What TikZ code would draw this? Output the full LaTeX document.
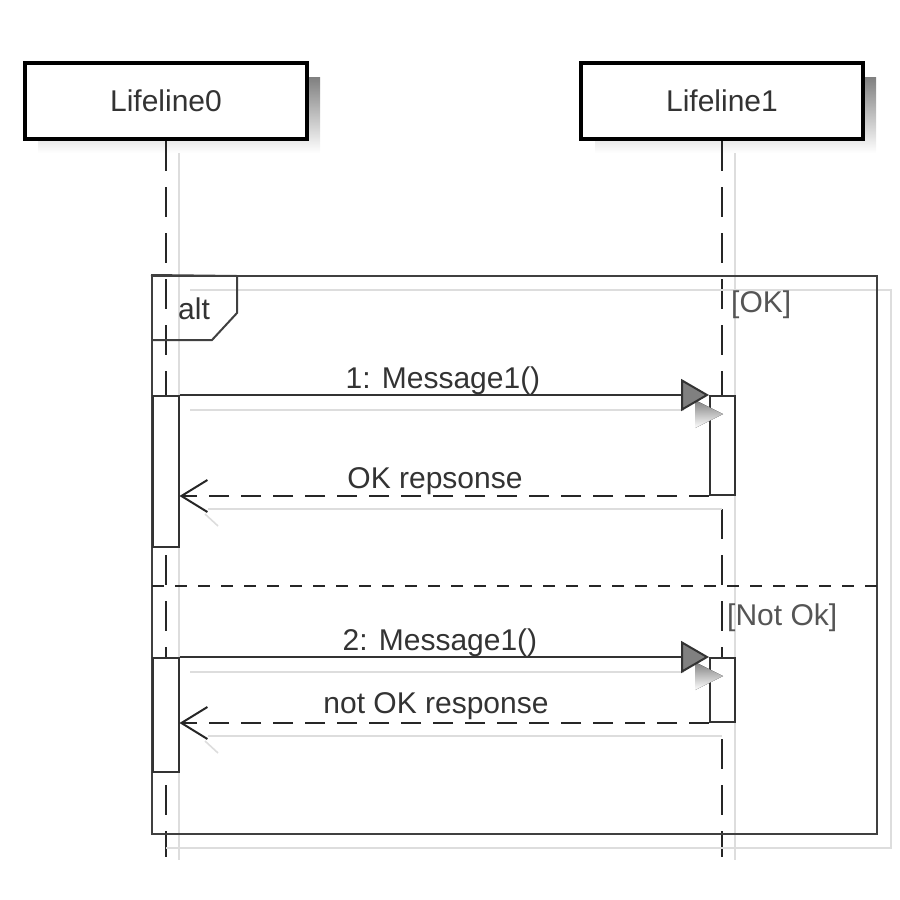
\documentclass[tikz,border=0pt]{standalone}
\usepackage{fontspec}
\setmainfont{Liberation Sans}
\usetikzlibrary{arrows.meta}
\definecolor{ink}{HTML}{333333}
\definecolor{shade}{HTML}{DDDDDD}
\definecolor{lbl}{HTML}{555555}
\tikzset{
  lifebox/.style={draw=black, line width=4pt, fill=white, minimum width=282pt, minimum height=76pt, inner sep=0pt, font=\fontsize{30}{32}\selectfont, text=ink},
  lifeshadow/.style={fill=shade, draw=none},
  lifeline/.style={draw=black!85, line width=2pt, dash pattern=on 30pt off 16pt},
  actbox/.style={draw=black!80, line width=2pt, fill=white, inner sep=0pt, minimum width=26pt},
  frame/.style={draw=black!75, line width=2pt},
  shadowline/.style={draw=shade, line width=1.6pt},
  sep/.style={draw=black!85, line width=2pt, dash pattern=on 12pt off 11pt},
  callmsg/.style={draw=black!80, line width=2pt, -{Triangle[length=28pt,width=32pt,fill=gray]}},
  retmsg/.style={draw=black!85, line width=2pt, dash pattern=on 20pt off 12pt, -{Straight Barb[length=26pt,width=32pt]}},
  msglbl/.style={anchor=base, font=\fontsize{30}{32}\selectfont, text=ink, inner sep=0pt},
  guard/.style={anchor=base west, font=\fontsize{30}{32}\selectfont, text=lbl, inner sep=0pt},
}
\begin{document}
\begin{tikzpicture}[x=1pt,y=-1pt]
\useasboundingbox (0,0) rectangle (900,900);
% lifeline box shadows
\fill[shade] (38,77) rectangle (320,153);
\fill[shade] (595,77) rectangle (876,153);
% lifeline shadows
\draw[shadowline] (179,153) -- (179,860);
\draw[shadowline] (735,153) -- (735,860);
% lifeline heads
\node[lifebox] (L0) at (166,101) {Lifeline0};
\node[lifebox] (L1) at (722,101) {Lifeline1};
\coordinate (E0) at (166,857);
\coordinate (E1) at (722,857);
\draw[lifeline] (L0.south) -- (E0);
\draw[lifeline] (L1.south) -- (E1);
% frame shadow
\draw[shadowline] (190,290) -- (891,290) -- (891,848) -- (166,848);
% alt frame
\node[frame, minimum width=725pt, minimum height=558pt, inner sep=0pt] (alt) at (514.5,555) {};
\draw[frame] (alt.north west) -- (237,276) -- (237,313) -- (212,340) -- (alt.west |- 0,340);
\node[anchor=base west, font=\fontsize{30}{32}\selectfont, text=ink, inner sep=0pt] (altlbl) at (178,319) {alt};
\coordinate (sepL) at (152,586);
\coordinate (sepR) at (877,586);
\draw[sep] (sepL) -- (sepR);
\node[guard] (g1) at (731,312) {[OK]};
\node[guard] (g2) at (727,625) {[Not Ok]};
% activation boxes
\node[actbox, minimum height=151pt] (a0) at (165.5,471.5) {};
\node[actbox, minimum height=114pt] (b0) at (165.5,715) {};
\node[actbox, minimum width=25pt, minimum height=99pt] (a1) at (722.5,445.5) {};
\node[actbox, minimum width=25pt, minimum height=64pt] (b1) at (722.5,690) {};
% message shadows
\draw[shadowline] (190,410) -- (684,410);
\fill[shade] (695,400) -- (723,414) -- (695,428) -- cycle;
\draw[shadowline] (208,509) -- (722,509);
\draw[shadowline] (205,514) -- (218,526);
\draw[shadowline] (190,672) -- (684,672);
\fill[shade] (695,662) -- (723,676) -- (695,690) -- cycle;
\draw[shadowline] (208,736) -- (722,736);
\draw[shadowline] (205,741) -- (218,753);
% messages
\draw[callmsg] (a0.north east) -- (a1.north west);
\draw[retmsg] (a1.south west) -- (a0.east |- a1.south);
\draw[callmsg] (b0.north east) -- (b1.north west);
\draw[retmsg] (b1.south west) -- (b0.east |- b1.south);
% labels
\node[msglbl] (m1) at (443,388) {1: Message1()};
\node[msglbl] (r1) at (435,488) {OK repsonse};
\node[msglbl] (m2) at (440,650) {2: Message1()};
\node[msglbl] (r2) at (436,713) {not OK response};
\end{tikzpicture}
\end{document}
